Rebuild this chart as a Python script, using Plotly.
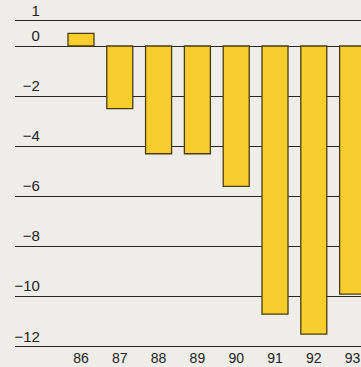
import plotly.graph_objects as go

# Annual balance, years 1986-1993
years = ["86", "87", "88", "89", "90", "91", "92", "93"]
balance = [0.5, -2.5, -4.3, -4.3, -5.6, -10.7, -11.5, -9.9]
y_ticks = [1, 0, -2, -4, -6, -8, -10, -12]

positions = list(range(len(years)))

fig = go.Figure(
    go.Bar(
        x=positions,
        y=balance,
        width=0.67,
        marker=dict(color="#f6cd2c", line=dict(color="#4a3c12", width=1.3)),
    )
)

fig.update_layout(
    width=361,
    height=367,
    margin=dict(l=15, r=0, t=5, b=19),
    paper_bgcolor="#efede9",
    plot_bgcolor="#efede9",
    showlegend=False,
    font=dict(family="Liberation Sans, Arial, sans-serif", size=15, color="#222222"),
    xaxis=dict(
        range=[-1.70, 7.216],
        tickvals=positions,
        ticktext=years,
        showgrid=False,
        zeroline=False,
        showline=False,
        ticks="",
        automargin=False,
        tickfont=dict(size=14),
    ),
    yaxis=dict(
        range=[-12.05, 1.636],
        tickvals=y_ticks,
        anchor="free",
        position=0.072,
        ticklabelposition="outside top",
        ticks="",
        showline=False,
        showgrid=True,
        gridcolor="#262626",
        gridwidth=1.4,
        zeroline=False,
        automargin=False,
        tickfont=dict(size=15),
    ),
)

fig.write_html("out.html")
